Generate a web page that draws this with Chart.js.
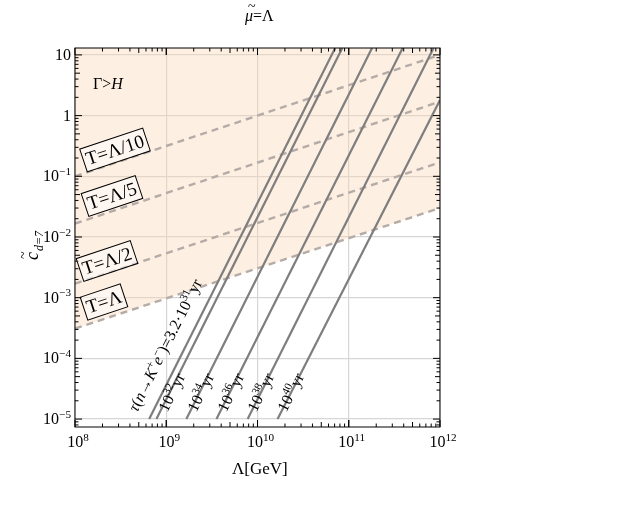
<!DOCTYPE html>
<html>
<head>
<meta charset="utf-8">
<script src="https://cdn.jsdelivr.net/npm/chart.js@4/dist/chart.umd.min.js"></script>
<style>
  body { margin: 0; background: #fff; }
  #wrap { width: 627px; height: 532px; }
</style>
</head>
<body>
<div id="wrap"><canvas id="c"></canvas></div>
<script>
// 축 범위 / 눈금
const xRange = [1e8, 1e12];
const yRange = [7.4e-6, 13];
const xTicks = [1e8, 1e9, 1e10, 1e11, 1e12];
const xTickExp = ['8', '9', '10', '11', '12'];
const yTicks = [1e-5, 1e-4, 1e-3, 1e-2, 1e-1, 1, 10];
const yTickExp = ['−5', '−4', '−3', '−2', '−1', null, null];
const yTickPlain = [null, null, null, null, null, '1', '10'];

// 수명 선 (실선): 시작점, 끝점
const lifeStart = [[6.5e8, 1e-5], [7.8e8, 1e-5], [1.66e9, 1e-5], [3.55e9, 1e-5], [7.8e9, 1e-5], [1.66e10, 1e-5]];
const lifeEnd = [[7.1e10, 13], [8.5e10, 13], [1.8e11, 13], [3.9e11, 13], [8.5e11, 13], [1e12, 1.8]];
const lifeExp = ['31', '32', '34', '36', '38', '40'];
const lifeLabelPos = [[140, 414], [170, 414], [199, 414], [229, 414], [259, 414], [289, 414]];

// 온도 선 (점선): x=1e8, x=1e12 에서의 값
const tempLeft = [0.1, 0.0166, 0.0017, 3.1e-4];
const tempRight = [10, 1.7, 0.17, 0.03];
const tempLabels = ['T=Λ/10', 'T=Λ/5', 'T=Λ/2', 'T=Λ'];
const tempLabelPos = [[115, 150], [112, 196], [107, 261], [104, 302]];

const datasets = [];
// 음영 영역 (T=Λ 위)
datasets.push({
  data: [{ x: xRange[0], y: tempLeft[3] }, { x: xRange[1], y: tempRight[3] }],
  borderWidth: 0, pointRadius: 0, fill: 'end', order: 5,
  backgroundColor: 'rgba(250,214,180,0.38)'
});
tempLeft.forEach((v, i) => {
  datasets.push({
    data: [{ x: xRange[0], y: v }, { x: xRange[1], y: tempRight[i] }],
    borderColor: '#b5aca8', borderWidth: 2.4, borderDash: [7, 5], pointRadius: 0, fill: false, order: 2
  });
});
lifeStart.forEach((p, i) => {
  datasets.push({
    data: [{ x: p[0], y: p[1] }, { x: lifeEnd[i][0], y: lifeEnd[i][1] }],
    borderColor: '#7e7e7e', borderWidth: 2.2, pointRadius: 0, fill: false, order: 1
  });
});

const serif = '"Liberation Serif", "DejaVu Serif", serif';

// 윗첨자 포함 텍스트: [텍스트, 윗첨자?, 이탤릭?]
function richWidth(ctx, segs, size) {
  let w = 0;
  segs.forEach(([t, sup, it]) => {
    ctx.font = (it ? 'italic ' : '') + (sup ? size * 0.7 : size) + 'px ' + serif;
    w += ctx.measureText(t).width;
  });
  return w;
}
function drawRich(ctx, segs, size, x, y) {
  segs.forEach(([t, sup, it]) => {
    ctx.font = (it ? 'italic ' : '') + (sup ? size * 0.7 : size) + 'px ' + serif;
    ctx.fillText(t, x, sup ? y - size * 0.4 : y);
    x += ctx.measureText(t).width;
  });
}

const decor = {
  id: 'decor',
  afterDatasetsDraw(chart) {
    const { ctx, chartArea: a, scales } = chart;
    ctx.save();
    ctx.strokeStyle = '#000';
    ctx.lineWidth = 1;
    for (let e = 8; e < 12; e++) {
      for (let m = 1; m <= 10; m++) {
        const px = scales.x.getPixelForValue(m * Math.pow(10, e));
        const len = (m === 1 || m === 10) ? 7 : (m === 5 ? 5 : 3.5);
        ctx.beginPath();
        ctx.moveTo(px, a.bottom); ctx.lineTo(px, a.bottom - len);
        ctx.moveTo(px, a.top); ctx.lineTo(px, a.top + len);
        ctx.stroke();
      }
    }
    for (let e = -6; e < 2; e++) {
      for (let m = 1; m <= 9; m++) {
        const v = m * Math.pow(10, e);
        if (v < yRange[0] || v > yRange[1]) continue;
        const py = scales.y.getPixelForValue(v);
        const len = m === 1 ? 7 : (m === 5 ? 5 : 3.5);
        ctx.beginPath();
        ctx.moveTo(a.left, py); ctx.lineTo(a.left + len, py);
        ctx.moveTo(a.right, py); ctx.lineTo(a.right - len, py);
        ctx.stroke();
      }
    }
    ctx.strokeRect(a.left, a.top, a.right - a.left, a.bottom - a.top);

    ctx.fillStyle = '#000';
    ctx.textBaseline = 'alphabetic';
    ctx.textAlign = 'left';
    // 눈금 라벨
    xTicks.forEach((v, i) => {
      const segs = [['10', 0, 0], [xTickExp[i], 1, 0]];
      const w = richWidth(ctx, segs, 16);
      drawRich(ctx, segs, 16, scales.x.getPixelForValue(v) - w / 2 + 3, a.bottom + 20);
    });
    yTicks.forEach((v, i) => {
      const segs = yTickPlain[i] ? [[yTickPlain[i], 0, 0]] : [['10', 0, 0], [yTickExp[i], 1, 0]];
      const w = richWidth(ctx, segs, 16);
      drawRich(ctx, segs, 16, a.left - 4 - w, scales.y.getPixelForValue(v) + 5);
    });

    // 온도 라벨 (상자)
    const ang = Math.atan(0.333);
    ctx.font = '19px ' + serif;
    ctx.textAlign = 'center';
    ctx.textBaseline = 'middle';
    tempLabels.forEach((t, i) => {
      const [cx, cy] = tempLabelPos[i];
      ctx.save();
      ctx.translate(cx, cy);
      ctx.rotate(-ang);
      const w = ctx.measureText(t).width + 6;
      ctx.fillStyle = 'rgba(255,255,255,0.5)';
      ctx.fillRect(-w / 2, -12, w, 24);
      ctx.strokeStyle = '#000';
      ctx.strokeRect(-w / 2, -12, w, 24);
      ctx.fillStyle = '#000';
      ctx.fillText(t, 0, 1);
      ctx.restore();
    });

    // 수명 라벨
    const ang2 = Math.atan(2.0);
    ctx.textAlign = 'left';
    ctx.textBaseline = 'alphabetic';
    lifeExp.forEach((ex, i) => {
      const [x0, y0] = lifeLabelPos[i];
      const segs = i === 0
        ? [['τ', 0, 1], ['(', 0, 0], ['n', 0, 1], ['→', 0, 0], ['K', 0, 1], ['+', 1, 0], ['e', 0, 1], ['−', 1, 0], [')=3.2·10', 0, 0], [ex, 1, 0], ['yr', 0, 0]]
        : [['10', 0, 0], [ex, 1, 0], ['yr', 0, 0]];
      ctx.save();
      ctx.translate(x0, y0);
      ctx.rotate(-ang2);
      drawRich(ctx, segs, 16, 0, -3);
      ctx.restore();
    });

    drawRich(ctx, [['Γ>', 0, 0], ['H', 0, 1]], 16, 93, 89);

    // 제목 / 축 제목
    drawRich(ctx, [['μ', 0, 1], ['=Λ', 0, 0]], 16, 245, 21);
    ctx.font = '14px ' + serif;
    ctx.fillText('~', 248, 11);
    drawRich(ctx, [['Λ[GeV]', 0, 0]], 17, 232, 474);
    ctx.save();
    ctx.translate(38, 260);
    ctx.rotate(-Math.PI / 2);
    drawRich(ctx, [['c', 0, 1]], 18, 0, 0);
    ctx.font = '14px ' + serif;
    ctx.fillText('~', 1, -10);
    ctx.font = 'italic 12px ' + serif;
    ctx.fillText('d=7', 9, 5);
    ctx.restore();
    ctx.restore();
  }
};

new Chart(document.getElementById('c'), {
  type: 'line',
  data: { datasets },
  options: {
    responsive: true,
    maintainAspectRatio: false,
    animation: false,
    layout: { padding: { left: 0, right: 187, top: 48, bottom: 0 } },
    plugins: { legend: { display: false }, tooltip: { enabled: false } },
    scales: {
      x: {
        type: 'logarithmic', min: xRange[0], max: xRange[1],
        afterBuildTicks: s => { s.ticks = xTicks.map(v => ({ value: v })); },
        afterFit: s => { s.height = 105; },
        ticks: { display: false },
        grid: { color: '#d6d6d6', lineWidth: 1.2, drawTicks: false },
        border: { display: false }
      },
      y: {
        type: 'logarithmic', min: yRange[0], max: yRange[1],
        afterBuildTicks: s => { s.ticks = yTicks.map(v => ({ value: v })); },
        afterFit: s => { s.width = 75; },
        ticks: { display: false },
        grid: { color: '#d6d6d6', lineWidth: 1.2, drawTicks: false },
        border: { display: false }
      }
    }
  },
  plugins: [decor]
});
</script>
</body>
</html>
